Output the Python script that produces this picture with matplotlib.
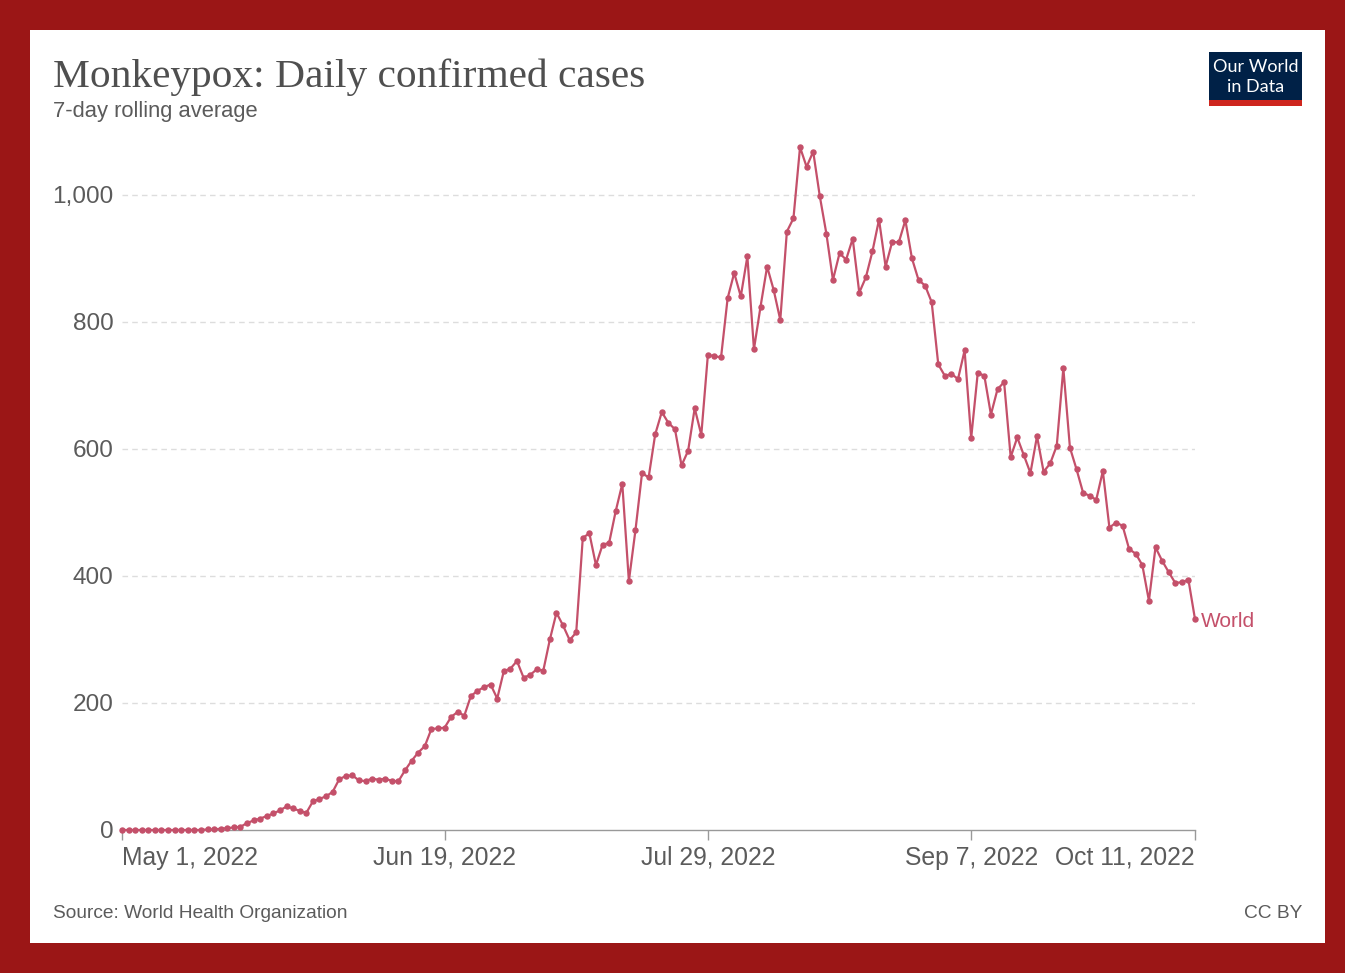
import numpy as np
import pandas as pd
import matplotlib
matplotlib.use("Agg")
import matplotlib.pyplot as plt
from matplotlib.patches import Rectangle

# 7-day rolling average of daily confirmed monkeypox cases, World, from May 1 2022
dates = pd.date_range("2022-05-01", "2022-10-11", freq="D")
cases = [0] * 13 + [
    1, 1, 2, 3, 4, 5, 11, 15, 18, 22, 26, 31, 37, 34, 30, 27, 45, 49, 53, 60,
    80, 85, 86, 78, 77, 81, 79, 81, 77, 77, 94, 109, 122, 132, 159, 160, 161, 178, 186, 180,
    211, 219, 225, 229, 207, 250, 254, 266, 240, 244, 253, 251, 300, 342, 322, 299, 311, 460, 467, 417,
    449, 452, 502, 545, 392, 472, 562, 555, 623, 658, 641, 631, 574, 597, 664, 622, 748, 746, 744, 837,
    877, 840, 903, 757, 824, 887, 850, 803, 942, 963, 1075, 1044, 1068, 998, 939, 866, 908, 898, 931, 846,
    870, 911, 961, 887, 926, 925, 960, 900, 866, 857, 831, 733, 715, 718, 710, 755, 617, 720, 715, 654,
    694, 705, 587, 618, 590, 562, 620, 564, 577, 605, 727, 602, 568, 531, 526, 520, 565, 476, 484, 479,
    442, 435, 417, 361, 445, 424, 406, 389, 390, 394, 332,
]
assert len(cases) == len(dates)

y_ticks = [0, 200, 400, 600, 800, 1000]
x_tick_dates = pd.to_datetime(["2022-05-01", "2022-06-19", "2022-07-29", "2022-09-07", "2022-10-11"])
x_tick_labels = ["May 1, 2022", "Jun 19, 2022", "Jul 29, 2022", "Sep 7, 2022", "Oct 11, 2022"]

W, H = 1345, 973
line_col = "#c4506a"
grey = "#5b5b5b"
sans = ["Liberation Sans", "DejaVu Sans"]

def fx(x):
    return x / W

def fy(y):
    return 1 - y / H

fig = plt.figure(figsize=(W / 100, H / 100), dpi=100, facecolor="#9b1616")
# white card inside the red frame
fig.patches.append(Rectangle((fx(30), fy(943)), fx(1325) - fx(30), fy(30) - fy(943),
                             transform=fig.transFigure, facecolor="white", edgecolor="none", zorder=-5))

ax = fig.add_axes([fx(122), fy(830), fx(1195) - fx(122), fy(144) - fy(830)])
ax.set_zorder(5)
ax.set_facecolor("none")

ax.plot(dates, cases, color=line_col, lw=1.6, marker="o", ms=3.6, zorder=3, clip_on=False)

ax.set_xlim(dates[0], dates[-1])
ax.set_ylim(0, 1080)

ax.set_yticks(y_ticks)
ax.set_yticklabels(["{:,}".format(v) for v in y_ticks], fontsize=17.6, color=grey, family=sans)
ax.tick_params(axis="y", length=0, pad=6)
for v in y_ticks[1:]:
    ax.axhline(v, color="#dddddd", lw=1, ls=(0, (4, 3)), zorder=1)

ax.set_xticks(x_tick_dates)
ax.set_xticklabels(x_tick_labels, fontsize=17.8, color=grey, family=sans)
ax.tick_params(axis="x", length=7, width=1, color="#999999", pad=4.5)
labels = ax.get_xticklabels()
labels[0].set_ha("left")
labels[-1].set_ha("right")

for s in ["top", "right", "left"]:
    ax.spines[s].set_visible(False)
ax.spines["bottom"].set_color("#999999")
ax.spines["bottom"].set_linewidth(1)

ax.annotate("World", xy=(dates[-1], cases[-1]), xytext=(4.5, -1.5), textcoords="offset points",
            color=line_col, fontsize=15, family=sans, va="center", ha="left", annotation_clip=False)

# header
fig.text(fx(53), fy(77), "Monkeypox: Daily confirmed cases", fontsize=29.8, color="#4f4f4f",
         family=["Liberation Serif", "DejaVu Serif"], va="center", ha="left")
fig.text(fx(53), fy(112), "7-day rolling average", fontsize=15.8, color=grey, family=sans,
         va="center", ha="left")

# logo
fig.patches.append(Rectangle((fx(1209), fy(100)), fx(1302) - fx(1209), fy(52) - fy(100),
                             transform=fig.transFigure, facecolor="#002147", edgecolor="none"))
fig.patches.append(Rectangle((fx(1209), fy(106)), fx(1302) - fx(1209), fy(100) - fy(106),
                             transform=fig.transFigure, facecolor="#ce261e", edgecolor="none"))
fig.text(fx(1255.5), fy(67), "Our World", fontsize=13, color="white", family=["Lato", "DejaVu Sans"],
         va="center", ha="center")
fig.text(fx(1255.5), fy(87), "in Data", fontsize=13, color="white", family=["Lato", "DejaVu Sans"],
         va="center", ha="center")

# footer
fig.text(fx(53), fy(913), "Source: World Health Organization", fontsize=13.8, color=grey, family=sans,
         va="center", ha="left")
fig.text(fx(1302), fy(913), "CC BY", fontsize=13.8, color=grey, family=sans, va="center", ha="right")

fig.savefig("out.png", dpi=100, facecolor=fig.get_facecolor())
